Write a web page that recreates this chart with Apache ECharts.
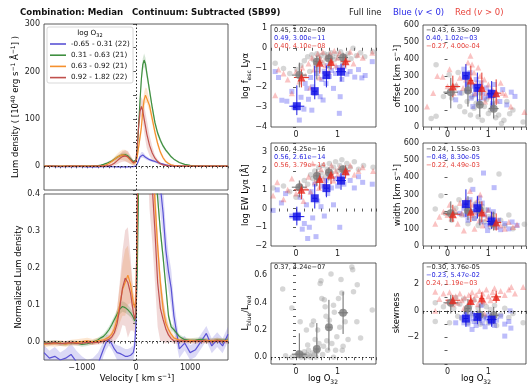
<!DOCTYPE html>
<html><head><meta charset="utf-8">
<script src="https://cdn.jsdelivr.net/npm/echarts@6/dist/echarts.min.js"></script>
<style>html,body{margin:0;padding:0;background:#fff}#c{width:529px;height:387px}</style>
</head><body><div id="c"></div>
<script>
const FONT = 'DejaVu Sans';
// ---------- spectra (left column) ----------
const velocity = [-1700,-1600,-1500,-1400,-1300,-1200,-1100,-1000,-900,-800,-700,-650,-600,-550,-500,-450,-400,-350,-300,-250,-200,-150,-100,-50,-25,0,25,50,75,100,125,150,175,200,250,300,350,400,450,500,550,600,650,700,800,900,1000,1100,1200,1300,1400,1500,1600,1700];
const binNames = ['-0.65 - 0.31 (22)','0.31 - 0.63 (21)','0.63 - 0.92 (21)','0.92 - 1.82 (22)'];
const lumBlue = [-0.5,-0.3,-0.6,-0.8,-0.5,-0.9,-1.0,-0.7,-1.1,-0.9,-1.2,-1.0,-0.8,-0.6,-0.5,-0.8,-1.0,-1.1,-1.2,-1.3,-1.2,-1.1,-1.0,-0.8,-0.4,0.5,6,13,20,24,24,22,19,17,14,12,10,8,6,4.5,3,2,1.2,0.6,0.2,0.3,-0.1,0.2,0.4,0.1,0.3,0.0,0.2,0.3];
const lumBlueErr = [1,1,1,1,1,1,1,1,1,1,1,1,1,1,1,1,1,1,1,1,1,1,1,1,1,1.5,3,4,5,6,6,5,4,4,3,3,2.5,2,2,1.5,1.5,1,1,1,1,1,1,1,1,1,1,1,1,1];
const lumGreen = [0.3,0.2,0.4,0.1,0.3,0.5,0.2,0.4,0.6,0.8,1.5,2.5,4,6,8.5,11,15,19,22,24,24.5,22,16,10,8,13,38,88,140,185,214,224,216,196,160,124,92,70,55,43,34,27,20,15,8,4,2,1,0.6,0.4,0.5,0.3,0.4,0.3];
const lumGreenErr = [0.8,0.8,0.8,0.8,0.8,0.8,0.8,0.8,0.8,0.8,0.8,1,1.5,2,2.5,3,3.5,4,4,4.5,4.5,4,3.5,3,3,4,8,10,12,12,13,14,13,12,10,9,7,6,5,4,3.5,3,2.5,2,1.5,1,1,0.8,0.8,0.8,0.8,0.8,0.8,0.8];
const lumOrange = [0.2,0.4,0.1,0.3,0.2,0.5,0.3,0.4,0.2,0.3,0.5,0.8,1.2,3,6,10,14.5,19,22,24,23,19,12.5,6.5,5.5,9,22,42,62,82,118,140,150,149,128,100,72,48,30,18,10,6,3,2,1,0.5,0.4,0.3,0.5,0.4,0.6,0.5,0.4,0.5];
const lumOrangeErr = [1,1,1,1,1,1,1,1,1,1,1,1,1.5,2,3,4,5,7,9,11,12,11,8,5,4,5,8,10,12,14,15,16,16,15,13,11,9,7,5,4,3,2,1.5,1.2,1,1,1,1,1,1,1,1,1,1];
const lumRed = [0.1,0.2,0.3,0.1,0.2,0.4,0.2,0.3,0.1,0.3,0.2,0.3,0.5,0.8,1.5,3,6.5,11.5,16.5,20.5,22,20,14,7.5,6,11,46,88,116,126,117,100,84,68,44,28,17,10,5.5,3,2,1,0.6,0.4,0.3,0.2,0.4,0.3,0.2,0.3,0.4,0.3,0.2,0.3];
const lumRedErr = [0.8,0.8,0.8,0.8,0.8,0.8,0.8,0.8,0.8,0.8,0.8,1,1,1.5,2,3,5,7,9,11,12,12,9,5,4,6,12,16,18,20,22,28,30,30,22,14,7,5,3,2,1.5,1,1,0.8,0.8,0.8,0.8,0.8,0.8,0.8,0.8,0.8,0.8,0.8];
const normBlue = [-0.03,-0.045,-0.04,-0.05,-0.045,-0.035,-0.055,-0.07,-0.08,-0.075,-0.06,-0.04,-0.02,-0.002,0.004,-0.006,-0.02,-0.03,-0.032,-0.036,-0.04,-0.04,-0.037,-0.03,-0.012,0.05,0.3,0.6,0.85,1.0,1.0,0.92,0.86,0.8,0.7,0.62,0.55,0.48,0.42,0.35,0.25,0.19,0.145,0.07,-0.02,-0.004,-0.03,-0.022,0.0,0.022,-0.012,0.005,-0.012,0.02];
const normBlueErr = [0.02,0.02,0.025,0.02,0.025,0.03,0.03,0.03,0.03,0.03,0.03,0.025,0.02,0.02,0.015,0.015,0.015,0.02,0.02,0.02,0.02,0.02,0.02,0.02,0.02,0.03,0.05,0.05,0.05,0.05,0.05,0.05,0.05,0.05,0.06,0.07,0.07,0.07,0.07,0.07,0.06,0.05,0.05,0.04,0.025,0.02,0.02,0.02,0.02,0.02,0.02,0.02,0.02,0.02];
const normGreen = [-0.003,-0.004,-0.002,-0.005,-0.006,-0.003,-0.004,-0.008,-0.006,-0.002,0.005,0.01,0.014,0.022,0.032,0.045,0.06,0.074,0.088,0.095,0.092,0.086,0.078,0.066,0.056,0.07,0.2,0.45,0.65,0.8,0.88,0.9,0.87,0.8,0.68,0.58,0.48,0.39,0.3,0.23,0.15,0.07,0.04,0.032,0.014,0.005,0.003,0.004,0.006,0.003,0.002,0.004,0.003,0.004];
const normGreenErr = [0.006,0.006,0.006,0.006,0.006,0.006,0.006,0.006,0.006,0.006,0.006,0.006,0.007,0.008,0.009,0.01,0.01,0.012,0.014,0.014,0.014,0.013,0.012,0.012,0.012,0.015,0.04,0.04,0.04,0.04,0.04,0.04,0.04,0.04,0.03,0.03,0.03,0.025,0.02,0.02,0.015,0.012,0.01,0.008,0.006,0.006,0.006,0.006,0.006,0.006,0.006,0.006,0.006,0.006];
const normOrange = [-0.008,-0.005,-0.006,-0.004,-0.007,-0.003,-0.002,0.0,0.002,-0.001,0.002,0.003,0.005,0.008,0.012,0.02,0.035,0.06,0.1,0.14,0.16,0.18,0.155,0.105,0.092,0.12,0.35,0.6,0.8,0.95,1.05,1.1,1.1,1.05,0.8,0.55,0.38,0.26,0.16,0.09,0.05,0.033,0.02,0.01,0.004,0.002,0.003,0.002,0.001,0.003,0.002,0.004,0.002,0.003];
const normOrangeErr = [0.008,0.008,0.008,0.008,0.008,0.008,0.008,0.008,0.008,0.008,0.008,0.006,0.006,0.008,0.01,0.015,0.02,0.03,0.05,0.07,0.09,0.08,0.05,0.03,0.03,0.04,0.08,0.08,0.08,0.08,0.08,0.08,0.08,0.08,0.07,0.06,0.05,0.04,0.03,0.025,0.02,0.015,0.01,0.008,0.006,0.006,0.006,0.006,0.006,0.006,0.006,0.006,0.006,0.006];
const normRed = [-0.004,-0.005,-0.003,-0.006,-0.004,-0.003,-0.005,-0.004,-0.002,-0.003,-0.002,-0.001,0.001,0.003,0.006,0.012,0.024,0.048,0.09,0.145,0.172,0.16,0.13,0.08,0.06,0.08,0.4,0.75,0.95,1.0,0.95,0.85,0.75,0.65,0.5,0.42,0.3,0.16,0.09,0.06,0.035,0.018,0.008,0.002,0.001,0.002,0.0,0.001,0.002,0.001,0.0,0.002,0.001,0.0];
const normRedErr = [0.006,0.006,0.006,0.006,0.006,0.006,0.006,0.006,0.006,0.006,0.006,0.006,0.006,0.008,0.01,0.015,0.025,0.04,0.07,0.1,0.13,0.15,0.1,0.05,0.04,0.05,0.12,0.12,0.12,0.12,0.12,0.12,0.12,0.12,0.14,0.15,0.14,0.12,0.09,0.06,0.04,0.02,0.01,0.008,0.006,0.006,0.006,0.006,0.006,0.006,0.006,0.006,0.006,0.006];

// ---------- scatter panels: [log O32, value] ----------
const fescGray = [[-0.5,-0.78],[-0.3,-1.05],[-0.15,-1.3],[0.02,-1.1],[0.12,-0.9],[0.2,-0.65],[0.28,-0.45],[0.33,-1.2],[0.38,-0.35],[0.42,-0.6],[0.47,-0.9],[0.5,-0.3],[0.55,-0.5],[0.6,-0.4],[0.63,-0.75],[0.68,-0.3],[0.72,-0.55],[0.76,-0.35],[0.8,-0.95],[0.84,-0.25],[0.88,-0.45],[0.92,-0.6],[0.97,-0.3],[1.02,-0.5],[1.07,-0.2],[1.12,-0.7],[1.18,-0.45],[1.25,-0.3],[1.32,-0.55],[1.37,-0.03],[1.45,-0.4],[1.55,-0.25],[1.65,-0.45],[1.84,-0.2]];
const fescBlue = [[-0.5,-1.2],[-0.42,-1.5],[-0.34,-2.65],[-0.22,-2.7],[-0.1,-2.2],[-0.05,-3.0],[0.08,-3.65],[0.12,-2.5],[0.19,-3.1],[0.22,-1.8],[0.26,-2.05],[0.3,-2.6],[0.35,-1.5],[0.38,-3.15],[0.4,-1.97],[0.45,-2.3],[0.5,-1.3],[0.54,-1.09],[0.58,-2.47],[0.62,-1.6],[0.65,-2.64],[0.68,-1.2],[0.72,-1.8],[0.76,-0.9],[0.8,-1.45],[0.85,-1.15],[0.9,-2.05],[0.95,-1.3],[1.0,-1.0],[1.04,-3.31],[1.06,-2.47],[1.1,-1.6],[1.15,-0.95],[1.22,-1.33],[1.3,-1.2],[1.41,-1.48],[1.5,-1.1],[1.58,-1.52],[1.66,-1.4],[1.83,-0.7]];
const fescRed = [[-0.5,-2.4],[-0.42,-1.1],[-0.3,-1.3],[-0.2,-1.6],[-0.1,-2.3],[0.0,-1.2],[0.08,-1.7],[0.15,-1.0],[0.22,-1.4],[0.3,-0.8],[0.34,-2.0],[0.38,-0.5],[0.43,-1.1],[0.48,-0.7],[0.52,-0.3],[0.56,-1.5],[0.6,-0.6],[0.64,-0.2],[0.7,-0.9],[0.74,-0.45],[0.78,-1.2],[0.82,-0.3],[0.87,-0.7],[0.92,-0.15],[0.96,-0.9],[1.0,-0.5],[1.05,-0.25],[1.1,-1.0],[1.15,-0.4],[1.22,-0.6],[1.3,-0.2],[1.38,-0.8],[1.48,-0.35],[1.6,-0.5],[1.83,-0.25]];
const ewGray = [[-0.55,1.1],[-0.3,1.2],[-0.15,0.9],[0.0,0.6],[0.1,1.2],[0.2,1.5],[0.28,1.3],[0.35,1.8],[0.4,1.6],[0.45,2.0],[0.5,1.5],[0.55,2.2],[0.6,1.9],[0.65,2.3],[0.7,1.7],[0.75,2.1],[0.8,2.4],[0.85,1.9],[0.9,2.2],[0.95,2.5],[1.0,2.0],[1.05,2.3],[1.1,2.6],[1.15,1.9],[1.22,2.4],[1.3,2.2],[1.4,2.5],[1.5,2.1],[1.62,2.3],[1.85,2.2]];
const ewBlue = [[-0.55,-0.1],[-0.45,1.0],[-0.35,0.3],[-0.25,0.8],[-0.1,-0.4],[0.05,-0.3],[0.1,0.6],[0.15,-1.1],[0.2,-0.8],[0.25,0.2],[0.28,-1.6],[0.32,-1.0],[0.36,0.9],[0.4,-0.5],[0.45,1.3],[0.48,-1.5],[0.52,0.4],[0.56,1.6],[0.6,0.1],[0.64,1.2],[0.68,-0.4],[0.72,1.5],[0.76,0.8],[0.8,1.8],[0.85,1.1],[0.9,0.2],[0.95,1.6],[1.0,1.2],[1.05,-1.0],[1.1,1.7],[1.15,1.3],[1.22,1.9],[1.3,1.5],[1.4,1.1],[1.5,1.7],[1.6,1.4],[1.83,1.3]];
const ewRed = [[-0.55,0.7],[-0.45,1.4],[-0.3,0.5],[-0.2,1.0],[-0.1,1.6],[0.0,0.8],[0.1,1.3],[0.18,0.4],[0.24,1.1],[0.3,1.7],[0.35,0.9],[0.4,2.4],[0.45,1.4],[0.5,1.9],[0.55,1.1],[0.6,2.1],[0.65,1.6],[0.7,1.3],[0.75,2.0],[0.8,1.7],[0.85,2.3],[0.9,1.5],[0.95,2.0],[1.0,1.8],[1.05,2.2],[1.1,1.6],[1.15,2.1],[1.22,1.9],[1.3,2.3],[1.4,1.8],[1.5,2.0],[1.6,2.2],[1.85,2.0]];
const ratioGray = [[-0.32,0.5],[-0.1,0.36],[-0.25,0.01],[-0.1,0.0],[0.0,0.01],[0.05,0.03],[0.1,0.26],[0.12,0.0],[0.15,0.02],[0.18,0.01],[0.2,0.04],[0.22,0.0],[0.25,0.2],[0.27,0.02],[0.28,0.09],[0.3,0.05],[0.32,0.01],[0.35,0.0],[0.38,0.235],[0.4,0.03],[0.42,0.265],[0.44,0.02],[0.46,0.13],[0.48,0.0],[0.5,0.04],[0.52,0.2],[0.55,0.1],[0.58,0.54],[0.6,0.56],[0.62,0.43],[0.64,0.02],[0.66,0.08],[0.68,0.42],[0.7,0.37],[0.72,0.3],[0.74,0.12],[0.76,0.05],[0.8,0.27],[0.84,0.61],[0.86,0.1],[0.9,0.38],[0.92,0.33],[0.95,0.05],[0.98,0.15],[1.02,0.43],[1.05,0.22],[1.08,0.57],[1.1,0.47],[1.13,0.08],[1.18,0.26],[1.25,0.13],[1.34,0.66],[1.36,0.64],[1.38,0.48],[1.47,0.53],[1.46,0.26],[1.55,0.14],[1.83,0.345],[1.11,0.05],[0.9,0.0]];
const offGray = [[-0.4,50],[-0.28,366],[-0.28,63],[-0.1,180],[0.04,308],[0.1,170],[0.2,240],[0.26,321],[0.3,120],[0.35,200],[0.42,90],[0.48,150],[0.52,250],[0.56,70],[0.6,180],[0.65,110],[0.7,140],[0.75,60],[0.8,200],[0.85,40],[0.9,120],[0.95,160],[1.0,80],[1.05,100],[1.1,130],[1.18,55],[1.25,70],[1.32,20],[1.38,40],[1.45,150],[1.52,78],[1.6,100],[1.85,30]];
const offBlue = [[0.4,340],[0.44,290],[0.48,250],[0.5,210],[0.55,320],[0.58,170],[0.62,240],[0.66,190],[0.7,280],[0.74,220],[0.78,150],[0.82,260],[0.86,200],[0.9,170],[0.95,230],[1.0,180],[1.05,210],[1.1,140],[1.15,250],[1.2,190],[1.28,150],[1.35,220],[1.45,130],[1.56,205],[1.65,180],[0.3,200],[0.2,160],[0.62,120],[1.1,110]];
const offRed = [[-0.5,120],[-0.35,200],[-0.25,300],[-0.12,296],[0.0,240],[0.05,340],[0.15,200],[0.22,250],[0.3,290],[0.38,230],[0.45,280],[0.5,380],[0.56,419],[0.6,368],[0.65,320],[0.7,260],[0.75,350],[0.8,300],[0.85,240],[0.9,280],[0.95,200],[1.0,250],[1.05,180],[1.1,220],[1.2,156],[1.3,260],[1.35,200],[1.42,190],[1.55,120],[1.88,88],[0.68,200],[0.92,150]];
const widGray = [[-0.3,215],[-0.16,292],[-0.05,190],[0.1,150],[0.2,220],[0.28,270],[0.35,180],[0.42,240],[0.5,130],[0.56,384],[0.6,200],[0.65,160],[0.7,250],[0.75,120],[0.8,190],[0.85,230],[0.9,140],[0.95,210],[1.0,170],[1.05,110],[1.1,180],[1.15,130],[1.26,419],[1.3,150],[1.4,120],[1.5,180],[1.6,100],[1.88,127]];
const widBlue = [[0.4,220],[0.45,180],[0.5,150],[0.55,270],[0.6,200],[0.62,330],[0.66,160],[0.7,240],[0.74,190],[0.78,280],[0.82,140],[0.85,250],[0.88,425],[0.9,180],[0.95,120],[1.0,210],[1.05,160],[1.1,130],[1.14,340],[1.2,110],[1.25,150],[1.3,95],[1.4,130],[1.5,100],[1.58,140],[1.7,120],[0.3,190],[0.98,90],[1.12,200]];
const widRed = [[-0.3,130],[-0.2,170],[-0.1,200],[0.0,180],[0.05,240],[0.1,160],[0.18,210],[0.25,130],[0.3,250],[0.35,190],[0.4,90],[0.45,270],[0.5,210],[0.55,320],[0.58,180],[0.62,240],[0.66,100],[0.7,200],[0.74,270],[0.78,150],[0.82,220],[0.86,120],[0.9,190],[0.95,160],[1.0,210],[1.05,130],[1.1,180],[1.18,110],[1.25,150],[1.3,120],[1.4,100],[1.5,140],[1.6,110],[1.7,125],[0.8,300]];
const skGray = [[-0.3,0.6],[-0.3,-0.8],[-0.1,0.3],[0.05,-0.9],[0.15,0.2],[0.2,1.0],[0.25,-0.4],[0.3,0.5],[0.35,-0.6],[0.4,0.9],[0.45,0.0],[0.5,-0.9],[0.55,0.4],[0.6,-0.3],[0.65,0.8],[0.7,-0.7],[0.75,0.2],[0.8,-1.0],[0.85,0.5],[0.9,-0.4],[0.95,0.3],[1.0,-0.9],[1.05,0.1],[1.1,-0.6],[1.15,0.4],[1.2,-1.1],[1.3,-0.3],[1.4,0.2],[1.5,-0.5],[1.6,-0.2],[1.85,-0.9]];
const skBlue = [[0.35,-0.5],[0.4,-0.9],[0.45,-0.3],[0.5,-1.0],[0.55,-0.6],[0.6,-0.2],[0.65,-0.8],[0.7,-1.1],[0.74,-0.4],[0.78,-0.7],[0.82,0.4],[0.85,-0.9],[0.88,-0.5],[0.92,-1.2],[0.96,-0.6],[1.0,-0.3],[1.05,-0.9],[1.1,-0.5],[1.15,-1.1],[1.2,-0.7],[1.3,-0.4],[1.4,-1.0],[1.5,-0.8],[1.55,-1.3],[1.4,-1.9],[1.53,0.0],[0.6,-1.4],[0.2,-0.9]];
const skRed = [[-0.3,1.43],[-0.3,0.0],[-0.2,0.9],[-0.1,1.3],[0.0,0.7],[0.05,1.4],[0.12,0.5],[0.2,1.1],[0.25,0.6],[0.3,1.3],[0.35,0.8],[0.42,1.0],[0.48,0.4],[0.52,1.2],[0.56,0.7],[0.6,1.4],[0.65,0.9],[0.7,1.2],[0.74,0.5],[0.78,1.5],[0.82,1.0],[0.86,1.3],[0.9,0.7],[0.95,1.6],[1.0,1.1],[1.05,0.8],[1.1,1.4],[1.15,1.7],[1.2,1.0],[1.3,1.5],[1.4,1.2],[1.5,1.6],[1.56,1.8],[1.65,1.3],[1.85,1.8],[0.4,0.2],[0.9,-0.2]];

// ---------- binned medians ----------
const binXGray = [0.08,0.50,0.79,1.13];
const binXBlue = [0.02,0.45,0.73,1.08];
const binXRed  = [0.13,0.57,0.84,1.19];
const binXErr  = [0.18,0.06,0.06,0.12];
const fescBinGray = [-1.38,-0.70,-0.54,-0.49], fescErrGray = [[-2.0,-0.75],[-1.6,-0.4],[-1.0,-0.3],[-0.9,-0.25]];
const fescBinBlue = [-2.95,-2.19,-1.38,-1.21], fescErrBlue = [[-3.4,-1.9],[-2.6,-0.9],[-2.0,-0.9],[-1.7,-0.8]];
const fescBinRed  = [-1.5,-0.76,-0.72,-0.68],  fescErrRed  = [[-2.0,-1.1],[-1.3,-0.45],[-1.1,-0.45],[-1.0,-0.4]];
const ewBinGray = [1.14,1.74,1.92,2.10], ewErrGray = [[0.6,1.5],[1.2,2.1],[1.5,2.2],[1.8,2.3]];
const ewBinBlue = [-0.43,0.55,1.09,1.49], ewErrBlue = [[-0.9,0.1],[0.0,1.3],[0.6,1.6],[1.0,1.9]];
const ewBinRed  = [1.0,1.58,1.80,2.01],   ewErrRed  = [[0.5,1.3],[1.0,1.9],[1.3,2.1],[1.6,2.3]];
const ratioBinGray = [0.022,0.06,0.22,0.325], ratioErrGray = [[0.0,0.175],[0.0,0.25],[0.05,0.42],[0.17,0.48]];
const offBinGray = [205,214,131,108], offErrGray = [[110,290],[120,300],[60,230],[50,200]];
const offBinBlue = [null,302,230,195], offErrBlue = [null,[200,370],[150,320],[110,270]];
const offBinRed  = [238,273,230,199], offErrRed  = [[175,302],[200,360],[160,320],[130,280]];
const widBinGray = [191,205,210,130], widErrGray = [[140,260],[150,290],[120,260],[90,200]];
const widBinBlue = [null,244,220,143], widErrBlue = [null,[170,330],[160,290],[100,200]];
const widBinRed  = [185,199,195,137], widErrRed  = [[140,240],[140,270],[140,260],[90,190]];
const skBinGray = [0.6,0.17,-0.3,-0.33], skErrGray = [[-0.2,1.2],[-0.5,0.9],[-0.8,0.5],[-1.0,0.3]];
const skBinBlue = [null,-0.58,-0.46,-0.66], skErrBlue = [null,[-1.2,0.0],[-1.0,0.0],[-1.2,-0.2]];
const skBinRed  = [0.8,0.75,0.93,1.05], skErrRed  = [[0.4,1.2],[0.4,1.2],[0.5,1.4],[0.6,1.5]];

// ---------- correlation annotations ----------
const statFesc = ['0.45, 1.02e-09','0.49, 3.00e-11','0.40, 4.10e-08'];
const statEW = ['0.60, 4.25e-16','0.56, 2.61e-14','0.56, 3.79e-14'];
const statRatio = ['0.37, 4.24e-07'];
const statOff = ['-0.43, 6.35e-09','0.40, 1.02e-03','-0.27, 4.00e-04'];
const statWid = ['-0.24, 1.55e-03','-0.48, 8.30e-05','-0.22, 4.49e-03'];
const statSk = ['-0.30, 3.76e-05','-0.23, 5.47e-02','0.24, 1.19e-03'];

// ================= build =================
const LC = ['#5a52d5','#3f8f40','#f5902d','#c0504d'];
const SC = {gray:'rgba(140,140,140,0.45)', blue:'rgba(40,40,240,0.38)', red:'rgba(240,60,60,0.38)'};
const BC = {gray:'#7a7a7a', blue:'#0c0ce6', red:'#e8281e'};
const EC = {gray:'#6a6a6a', blue:'#1a1ae0', red:'#e0352a'};
const minus = s => String(s).replace('-', '\u2212');
const near = (a,b) => Math.abs(a-b) < 1e-6;

const grids = [
  {left:44, top:24, width:184, height:166},
  {left:44, top:194, width:184, height:166},
  {left:271, top:25, width:105, height:102},
  {left:423, top:25, width:105, height:102},
  {left:271, top:143, width:105, height:103},
  {left:423, top:143, width:105, height:103},
  {left:271, top:263, width:105, height:101},
  {left:423, top:263, width:105, height:101}
].map(g => Object.assign(g, {show:true, borderColor:'#333', borderWidth:0.8, backgroundColor:'transparent'}));

const tick = {show:true, length:3, lineStyle:{color:'#333', width:0.8}};
const lab = f => ({fontSize:8, color:'#222', fontFamily:FONT, margin:4, showMinLabel:true, showMaxLabel:true, formatter:f});
function axis(gi, min, max, interval, f, extra) {
  return Object.assign({type:'value', gridIndex:gi, min, max, interval,
    axisLine:{show:false}, splitLine:{show:false}, axisTick:tick, axisLabel:lab(f)}, extra||{});
}
const velLab = v => (near(v,-1000)||near(v,0)||near(v,1000)) ? minus(Math.round(v)) : '';
const o32Lab = v => near(v,0) ? '0' : (near(v,1) ? '1' : '');
const xAxis = [
  axis(0,-1700,1700,100,()=>'',{axisTick:{show:true,length:2,lineStyle:{color:'#333',width:0.8}}}),
  axis(1,-1700,1700,100,velLab,{axisTick:{show:true,length:2,lineStyle:{color:'#333',width:0.8}}}),
  axis(2,-0.6,1.92,0.2,o32Lab), axis(3,-0.6,1.92,0.2,o32Lab),
  axis(4,-0.6,1.92,0.2,o32Lab), axis(5,-0.6,1.92,0.2,o32Lab),
  axis(6,-0.6,1.92,0.2,o32Lab), axis(7,-0.6,1.92,0.2,o32Lab)
];
const intLab = v => near(v, Math.round(v)) ? minus(Math.round(v)) : '';
const yAxis = [
  axis(0,-50,300,50,v => (near(v%100,0)) ? String(Math.round(v)) : ''),
  axis(1,-0.05,0.4,0.05,v => { const k=Math.round(v*100); return (k%10===0 && near(v*100,k)) ? minus((k/100).toFixed(1)) : ''; }),
  axis(2,-4,1.15,1,intLab),
  axis(3,0,600,100,v=>String(Math.round(v))),
  axis(4,-2,3.5,1,intLab),
  axis(5,0,600,100,v=>String(Math.round(v))),
  axis(6,-0.05,0.69,0.05,v => { const k=Math.round(v*100); return (k>=0 && k%20===0 && near(v*100,k)) ? (k/100).toFixed(1) : ''; }),
  axis(7,-4,3.6,1,v => (near(v,-2)||near(v,0)||near(v,2)) ? minus(Math.round(v)) : '')
];

const series = [];
const zip = (xs, ys) => xs.map((x,i)=>[x, ys[i]]);
function band(gi, xs, ys, es, color) {
  series.push({type:'custom', xAxisIndex:gi, yAxisIndex:gi, clip:true, silent:true, z:1, data:[[0,0]],
    renderItem:(p, api) => {
      const pts = [];
      for (let i=0;i<xs.length;i++) pts.push(api.coord([xs[i], ys[i]+es[i]]));
      for (let i=xs.length-1;i>=0;i--) pts.push(api.coord([xs[i], ys[i]-es[i]]));
      return {type:'polygon', shape:{points:pts}, style:{fill:color, opacity:0.22}};
    }});
}
function line(gi, name, ys, color, extra) {
  series.push(Object.assign({type:'line', name, xAxisIndex:gi, yAxisIndex:gi, data:zip(velocity, ys),
    showSymbol:false, symbol:'none', silent:true, z:3, clip:true,
    lineStyle:{color, width:1.2}, itemStyle:{color}}, extra||{}));
}
const zeroLines = (data) => ({markLine:{silent:true, symbol:'none', animation:false, label:{show:false},
  lineStyle:{type:[1.5,2], color:'#111', width:0.9}, data}});

const lums = [[lumBlue,lumBlueErr],[lumGreen,lumGreenErr],[lumOrange,lumOrangeErr],[lumRed,lumRedErr]];
const norms = [[normBlue,normBlueErr],[normGreen,normGreenErr],[normOrange,normOrangeErr],[normRed,normRedErr]];
lums.forEach((d,i) => band(0, velocity, d[0], d[1], LC[i]));
norms.forEach((d,i) => band(1, velocity, d[0], d[1], LC[i]));
lums.forEach((d,i) => line(0, binNames[i], d[0], LC[i], i===0 ? zeroLines([{xAxis:0},{yAxis:0}]) : null));
norms.forEach((d,i) => line(1, 'n'+i, d[0], LC[i], i===0 ? zeroLines([{xAxis:0},{yAxis:0}]) : null));

function pts(gi, data, kind, extra) {
  const sym = {gray:'circle', blue:'rect', red:'triangle'}[kind];
  series.push(Object.assign({type:'scatter', xAxisIndex:gi, yAxisIndex:gi, data, symbol:sym,
    symbolSize: kind==='gray'?5.5:(kind==='blue'?5:6), silent:true, z:2,
    itemStyle:{color:SC[kind]}}, extra||{}));
}
function bins(gi, xs, ys, errs, kind) {
  const rows = [];
  xs.forEach((x,i) => { if (ys[i] !== null) rows.push([x, ys[i], errs[i][0], errs[i][1], binXErr[i]]); });
  series.push({type:'custom', xAxisIndex:gi, yAxisIndex:gi, silent:true, z:4, clip:true, data:rows,
    renderItem:(p, api) => {
      const x=api.value(0), y=api.value(1), lo=api.value(2), hi=api.value(3), xe=api.value(4);
      const a=api.coord([x,lo]), b=api.coord([x,hi]), c=api.coord([x-xe,y]), d=api.coord([x+xe,y]);
      const st = {stroke:EC[kind], lineWidth:1};
      return {type:'group', children:[
        {type:'line', shape:{x1:a[0],y1:a[1],x2:b[0],y2:b[1]}, style:st},
        {type:'line', shape:{x1:c[0],y1:c[1],x2:d[0],y2:d[1]}, style:st}]};
    }});
  const sym = {gray:'circle', blue:'rect', red:'triangle'}[kind];
  series.push({type:'scatter', xAxisIndex:gi, yAxisIndex:gi, silent:true, z:5, data:rows.map(r=>[r[0],r[1]]),
    symbol:sym, symbolSize:8, itemStyle:{color:BC[kind]}});
}
function panel(gi, g, b, r, bg, bb, br, zeroY) {
  pts(gi, g, 'gray', zeroY ? zeroLines([{yAxis:0}]) : null);
  if (b) pts(gi, b, 'blue');
  if (r) pts(gi, r, 'red');
  bins(gi, binXGray, bg[0], bg[1], 'gray');
  if (bb) bins(gi, binXBlue, bb[0], bb[1], 'blue');
  if (br) bins(gi, binXRed, br[0], br[1], 'red');
}
panel(2, fescGray, fescBlue, fescRed, [fescBinGray,fescErrGray], [fescBinBlue,fescErrBlue], [fescBinRed,fescErrRed]);
panel(3, offGray, offBlue, offRed, [offBinGray,offErrGray], [offBinBlue,offErrBlue], [offBinRed,offErrRed]);
panel(4, ewGray, ewBlue, ewRed, [ewBinGray,ewErrGray], [ewBinBlue,ewErrBlue], [ewBinRed,ewErrRed]);
panel(5, widGray, widBlue, widRed, [widBinGray,widErrGray], [widBinBlue,widErrBlue], [widBinRed,widErrRed]);
panel(6, ratioGray, null, null, [ratioBinGray,ratioErrGray], null, null, true);
panel(7, skGray, skBlue, skRed, [skBinGray,skErrGray], [skBinBlue,skErrBlue], [skBinRed,skErrRed], true);

// ---------- texts ----------
const rich = {
  t:{fontSize:8.5, fontFamily:FONT, color:'#111', verticalAlign:'bottom', padding:[0,0,2,0]},
  p:{fontSize:6, fontFamily:FONT, color:'#111', verticalAlign:'bottom', padding:[0,0,6,0]},
  b:{fontSize:6, fontFamily:FONT, color:'#111', verticalAlign:'bottom', padding:[0,0,0,0]}
};
function label(x, y, text, rot) {
  return {type:'text', x, y, rotation: rot ? Math.PI/2 : 0, z:100, silent:true,
    style:{text, rich, align:'center', verticalAlign:'middle'}};
}
function small(x, y, lines, colors) {
  return lines.map((s,i)=>({type:'text', x, y:y+i*8.1, z:100, silent:true,
    style:{text:minus(s), fontSize:6.6, fontFamily:FONT, fill:colors[i], align:'left', verticalAlign:'middle'}}));
}
const statCol = ['#222','#2626e0','#e5433c'];
const graphics = [
  {type:'text', x:20, y:13, style:{text:'Combination: Median', fontSize:8.6, fontWeight:'bold', fontFamily:FONT, fill:'#111', verticalAlign:'middle'}},
  {type:'text', x:132, y:13, style:{text:'Continuum: Subtracted (SB99)', fontSize:8.6, fontWeight:'bold', fontFamily:FONT, fill:'#111', verticalAlign:'middle'}},
  {type:'text', x:349, y:13, style:{text:'Full line', fontSize:8.5, fontFamily:FONT, fill:'#222', verticalAlign:'middle'}},
  {type:'text', x:393, y:13, style:{text:'Blue ({i|v} < 0)', fontSize:8.5, fontFamily:FONT, fill:'#2a2ae8', verticalAlign:'middle',
     rich:{i:{fontSize:8.5, fontFamily:FONT, fontStyle:'italic', fill:'#2a2ae8'}}}},
  {type:'text', x:455, y:13, style:{text:'Red ({i|v} > 0)', fontSize:8.5, fontFamily:FONT, fill:'#e8443c', verticalAlign:'middle',
     rich:{i:{fontSize:8.5, fontFamily:FONT, fontStyle:'italic', fill:'#e8443c'}}}},
  // legend box
  {type:'rect', shape:{x:47, y:27, width:86, height:56, r:2}, z:50, style:{fill:'rgba(255,255,255,0.85)', stroke:'#cfcfcf', lineWidth:0.8}},
  {type:'text', x:90, y:34, z:51, style:{text:'{s|log O}{u|32}', align:'center', verticalAlign:'middle',
     rich:{s:{fontSize:7.2, fontFamily:FONT, color:'#111', verticalAlign:'bottom', padding:[0,0,1.5,0]}, u:{fontSize:5, fontFamily:FONT, color:'#111', verticalAlign:'bottom'}}}},
  // axis names
  label(16, 107, '{t|Lum density ( [10}{p|40}{t| erg s}{p|\u22121}{t| \u00c5}{p|\u22121}{t|] )}', true),
  label(20, 277, '{t|Normalized Lum density}', true),
  label(137, 379, '{t|Velocity [ km s}{p|\u22121}{t|]}', false),
  label(247, 76, '{t|log f}{b|esc}{t| Ly\u03b1}', true),
  label(247, 195, '{t|log EW Ly\u03b1 [\u00c5]}', true),
  label(247, 313, '{t|L}{b|blue}{t|/L}{b|red}', true),
  label(398, 76, '{t|offset [km s}{p|\u22121}{t|]}', true),
  label(398, 195, '{t|width [km s}{p|\u22121}{t|]}', true),
  label(398, 313, '{t|skewness}', true),
  label(323, 380, '{t|log O}{b|32}', false),
  label(476, 380, '{t|log O}{b|32}', false)
].concat(
  small(274, 30, statFesc, statCol), small(426, 30, statOff, statCol),
  small(274, 149, statEW, statCol), small(426, 149, statWid, statCol),
  small(274, 267.5, statRatio, statCol), small(426, 267.5, statSk, statCol)
);

const chart = echarts.init(document.getElementById('c'));
chart.setOption({
  animation:false, backgroundColor:'#fff',
  grid:grids, xAxis, yAxis, series, graphic:graphics,
  legend:{data:binNames, orient:'vertical', left:50, top:40.5, itemWidth:16, itemHeight:1.6, itemGap:4.2, icon:'rect',
    z:60, padding:0, selectedMode:false,
    textStyle:{fontSize:7.2, fontFamily:FONT, color:'#111', padding:[0,0,0,0]}}
});
</script></body></html>
